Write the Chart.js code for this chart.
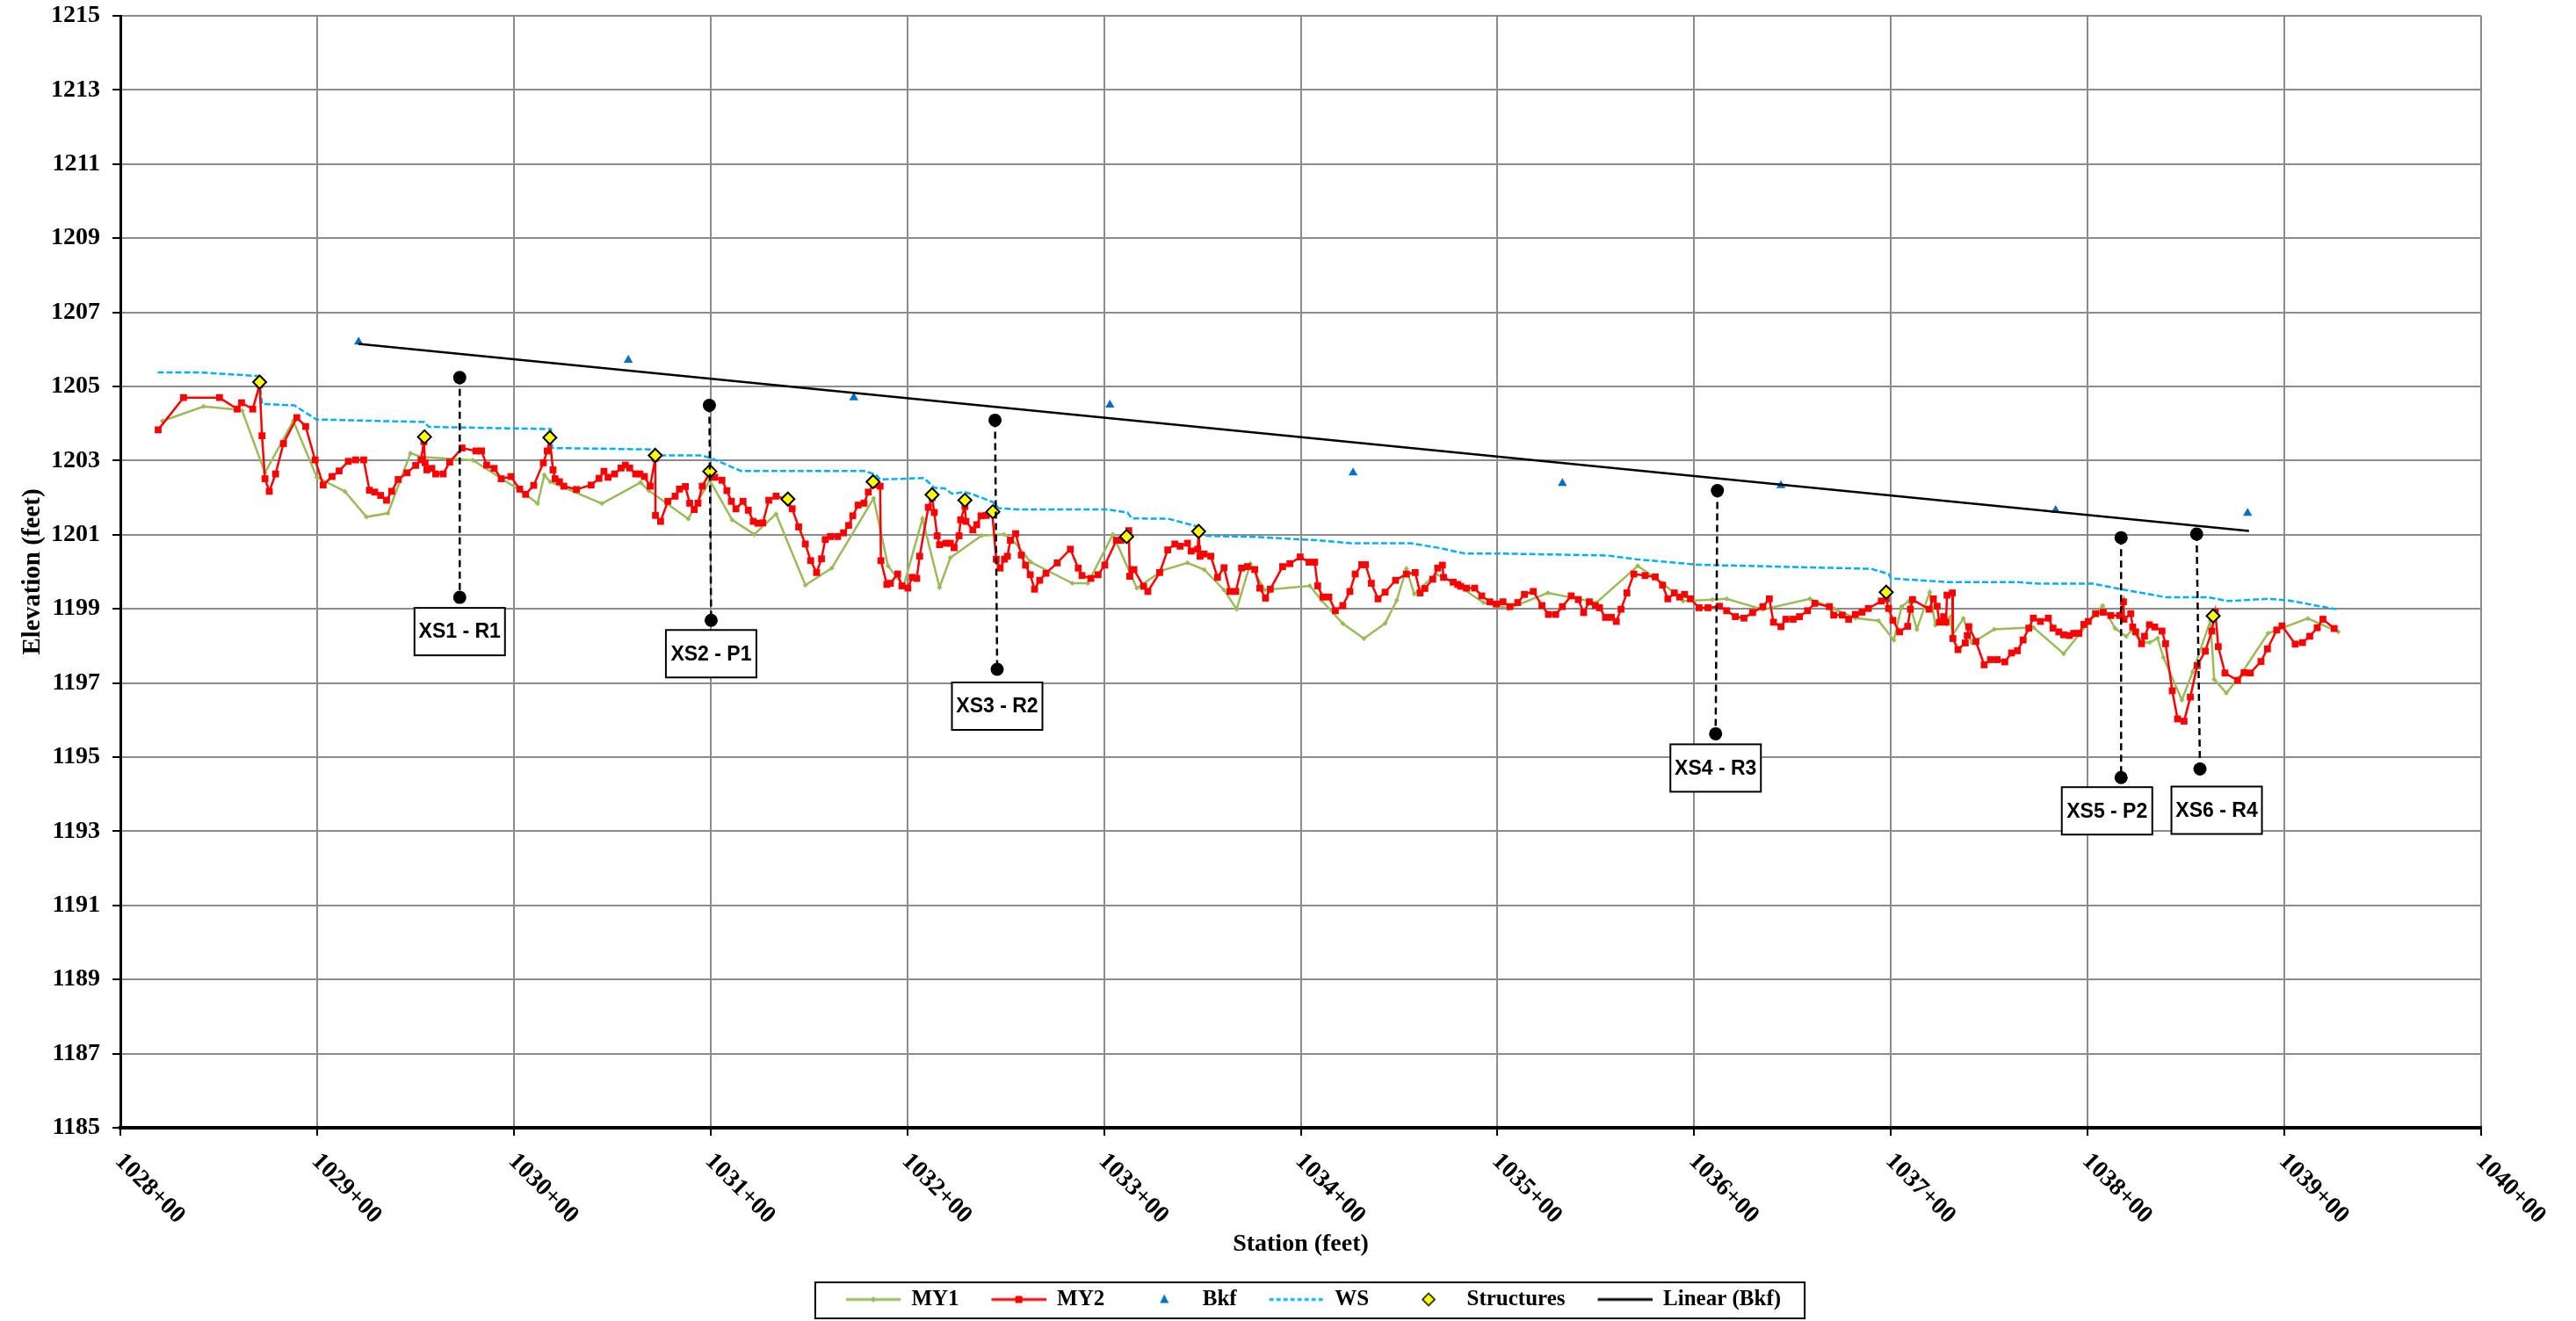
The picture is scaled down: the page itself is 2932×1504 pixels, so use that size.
<!DOCTYPE html>
<html>
<head>
<meta charset="utf-8">
<title>Longitudinal profile</title>
<script src="https://cdn.jsdelivr.net/npm/chart.js@4.4.1/dist/chart.umd.min.js"></script>
<style>
  html, body { margin: 0; padding: 0; background: #fff; }
  #wrap { width: 2932px; height: 1504px; position: relative; }
</style>
</head>
<body>
<div id="wrap"><canvas id="profile"></canvas></div>
<script>
// station in feet (102800 = 1028+00), elevation in feet

// MY1 thalweg survey
var my1Station = [
  102821.4,102842.3,102858.6,102861.9,102873.5,102887.9,102899.9,102914.1,102925.1,102936.0,
  102947.5,102953.1,102979.2,103004.5,103012.1,103015.5,103018.5,103044.8,103064.4,103068.6,
  103088.7,103099.6,103111.0,103122.2,103133.3,103148.2,103161.6,103182.9,103190.2,103198.1,
  103207.7,103216.4,103221.9,103237.8,103249.1,103253.1,103262.8,103283.9,103291.8,103304.5,
  103316.7,103329.8,103342.4,103350.9,103361.0,103367.4,103374.4,103381.5,103404.6,103410.6,
  103421.4,103432.1,103442.9,103448.8,103453.7,103457.7,103468.6,103476.8,103492.9,103505.8,
  103525.6,103550.4,103571.3,103583.9,103594.3,103609.2,103616.5,103634.9,103658.8,103670.9,
  103681.9,103693.7,103701.5,103705.4,103709.1,103713.2,103719.7,103722.6,103730.4,103731.2,
  103736.8,103741.2,103752.5,103772.4,103787.8,103807.6,103814.0,103819.6,103822.6,103827.1,
  103831.5,103835.6,103838.5,103847.9,103853.4,103862.4,103864.3,103870.5,103876.5,103891.7,
  103911.9,103927.4
];
var my1Elev = [
  1204.07,1204.46,1204.38,1204.35,1202.67,1204.07,1202.55,1202.17,1201.48,1201.58,
  1203.20,1203.10,1203.01,1202.15,1201.84,1202.61,1202.43,1201.84,1202.41,1202.19,
  1201.43,1202.47,1201.40,1201.01,1201.56,1199.64,1200.10,1201.98,1200.16,1199.61,
  1201.43,1199.58,1200.38,1200.98,1201.01,1200.89,1200.26,1199.69,1199.69,1201.01,
  1199.56,1200.04,1200.24,1200.06,1199.51,1198.99,1200.22,1199.51,1199.62,1199.23,
  1198.60,1198.20,1198.61,1199.23,1200.08,1199.40,1199.94,1199.74,1199.17,1199.01,
  1199.43,1199.17,1200.16,1199.70,1199.21,1199.25,1199.27,1198.98,1199.27,1199.01,
  1198.75,1198.68,1198.16,1199.06,1199.21,1198.45,1199.45,1198.56,1198.79,1198.28,
  1198.74,1198.08,1198.45,1198.50,1197.79,1199.09,1198.47,1198.26,1198.43,1198.09,
  1198.09,1198.21,1197.69,1196.54,1197.30,1198.68,1197.10,1196.73,1197.12,1198.34,
  1198.74,1198.38
];

// MY2 thalweg survey
var my2Station = [
  102819.2,102832.1,102850.4,102859.4,102861.6,102867.3,102870.8,102872.0,102873.5,102875.7,
  102878.9,102882.9,102889.7,102894.2,102899.0,102903.1,102907.6,102911.2,102915.9,102919.6,
  102923.7,102926.6,102929.3,102932.3,102935.3,102937.9,102941.2,102945.7,102950.1,102952.8,
  102954.3,102954.9,102955.8,102958.3,102960.3,102964.1,102967.4,102973.7,102980.7,102983.6,
  102986.2,102990.0,102993.6,102998.5,103003.0,103006.0,
  103010.1,103015.0,103017.0,103018.3,103019.9,103021.0,103023.2,103025.4,103031.8,103039.3,
  103043.3,103045.8,103047.9,103051.2,103054.5,103056.7,103058.9,103061.9,103064.1,103066.4,
  103069.3,103071.9,103072.0,103074.6,103078.3,103082.0,103084.2,103087.2,103089.4,103091.7,
  103093.6,103095.8,103099.6,103102.1,103105.8,103108.3,103110.6,103112.9,103116.5,103119.2,
  103121.7,103124.1,103126.6,103129.6,103133.3,103138.5,103141.5,103144.8,103148.2,103150.9,
  103153.9,103156.4,103158.3,103160.9,103164.6,103167.6,103170.2,103172.3,103175.0,103178.0,
  103180.2,103182.9,103186.2,103186.6,103189.6,103191.4,103195.1,103197.3,103200.3,103202.5,
  103204.8,103206.3,
  103210.7,103212.6,103213.7,103215.2,103216.4,103219.6,103221.9,103223.8,103226.3,103227.1,
  103229.3,103229.8,103233.3,103235.3,103237.5,103240.2,103243.2,103245.2,103247.2,103249.4,
  103250.9,103252.4,103255.1,103258.0,103260.1,103262.5,103264.7,103267.3,103270.5,103276.2,
  103282.9,103286.9,103288.8,103293.3,103297.0,103300.4,103306.3,103308.6,103312.6,103313.1,
  103315.2,103320.1,103322.3,103328.3,103332.4,103336.0,103338.7,103342.4,103344.3,103347.6,
  103348.1,103348.8,103350.9,103354.3,103357.7,103361.0,103364.0,103367.0,103369.9,103372.9,
  103376.6,103379.2,103382.1,103384.5,103390.8,103394.5,103399.7,103404.2,103407.1,103408.6,
  103411.3,103414.3,103417.6,103421.4,103425.0,103427.7,103431.0,103432.9,103435.9,103439.3,
  103442.9,103448.2,103453.7,103458.2,103460.7,103463.1,103467.1,103469.6,103472.0,103472.6,
  103477.5,103479.8,103481.3,103484.2,103488.4,103492.0,103496.1,103499.4,103502.8,103506.3,
  103510.3,103513.7,103518.2,103522.6,103525.9,103529.6,103533.0,103537.5,103541.1,103543.8,
  103546.7,103549.7,103551.9,103554.9,103557.9,103560.4,103562.8,103565.8,103569.3,103575.0,
  103580.2,103583.9,103586.6,103589.9,103592.6,103595.1,103598.1,103602.5,103607.0,
  103612.8,103616.5,103620.9,103625.3,103629.7,103634.9,103638.2,103640.3,103644.1,103646.6,
  103650.3,103653.5,103657.6,103661.3,103668.7,103670.9,103675.3,103678.5,103681.9,103685.3,
  103688.5,103695.1,103697.6,103698.8,103701.0,103704.4,103708.5,103709.9,103711.0,103719.4,
  103721.6,103723.5,103724.6,103726.8,103728.0,103728.5,103731.2,103731.5,103734.1,103737.8,
  103738.8,103739.6,103743.2,103747.4,103750.6,103754.0,103757.9,103761.3,103764.3,103767.2,
  103770.1,103772.4,103776.0,103780.0,103782.4,103785.3,103787.8,103790.7,103792.9,103795.6,
  103798.1,103800.3,103804.0,103807.9,
  103811.8,103816.2,103818.2,103818.5,103821.9,103822.9,103824.4,103827.4,103828.9,103831.4,
  103834.1,103837.8,103839.6,103843.0,103845.7,103849.0,103852.2,103855.7,103859.8,103863.1,
  103864.9,103866.4,103869.8,103876.2,103879.5,103882.7,103888.1,103891.4,103896.1,103898.8,
  103905.5,103909.2,103912.9,103916.7,103919.6,103925.3
];
var my2Elev = [
  1203.83,1204.70,1204.70,1204.39,1204.56,1204.39,1205.05,1203.67,1202.51,1202.17,
  1202.64,1203.46,1204.16,1203.92,1203.02,1202.34,1202.57,1202.72,1202.98,1203.02,
  1203.02,1202.20,1202.15,1202.06,1201.93,1202.17,1202.49,1202.67,1202.87,1203.02,
  1203.51,1202.94,1202.75,1202.79,1202.64,1202.64,1202.96,1203.34,1203.26,1203.26,
  1202.88,1202.79,1202.51,1202.57,1202.23,1202.09,
  1202.33,1202.94,1203.26,1203.58,1202.75,1202.51,1202.43,1202.31,1202.22,1202.34,
  1202.52,1202.71,1202.55,1202.64,1202.80,1202.88,1202.80,1202.64,1202.64,1202.57,
  1202.31,1203.06,1201.52,1201.36,1201.90,1202.04,1202.23,1202.30,1201.85,1201.68,
  1201.85,1202.31,1202.67,1202.55,1202.47,1202.19,1201.90,1201.70,1201.90,1201.66,
  1201.36,1201.31,1201.32,1201.93,1202.04,1201.96,1201.70,1201.21,1200.75,1200.30,
  1199.98,1200.35,1200.87,1200.95,1200.95,1201.05,1201.25,1201.51,1201.80,1201.85,
  1202.15,1202.35,1202.31,1200.30,1199.66,1199.69,1199.94,1199.62,1199.56,1199.85,
  1199.82,1200.42,
  1201.74,1202.00,1201.60,1200.97,1200.73,1200.77,1200.77,1200.65,1200.97,1201.40,
  1201.76,1201.36,1201.13,1201.27,1201.51,1201.52,1201.58,1200.34,1200.10,1200.34,
  1200.42,1200.85,1201.03,1200.45,1200.18,1199.92,1199.53,1199.77,1199.96,1200.24,
  1200.61,1200.10,1199.90,1199.82,1199.92,1200.18,1200.85,1200.85,1201.11,1199.88,
  1200.06,1199.61,1199.47,1199.98,1200.59,1200.75,1200.69,1200.77,1200.56,1200.61,
  1201.05,1200.42,1200.48,1200.42,1199.85,1200.11,1199.47,1199.47,1200.10,1200.14,
  1200.06,1199.56,1199.29,1199.53,1200.14,1200.22,1200.40,1200.26,1200.26,1199.62,
  1199.32,1199.32,1198.95,1199.09,1199.47,1199.94,1200.19,1200.19,1199.69,1199.27,
  1199.45,1199.77,1199.94,1199.98,1199.43,1199.55,1199.80,1200.10,1200.18,1199.85,
  1199.72,1199.66,1199.61,1199.56,1199.56,1199.35,1199.19,1199.13,1199.19,1199.06,
  1199.17,1199.39,1199.47,1199.09,1198.85,1198.85,1199.06,1199.35,1199.25,1198.90,
  1199.19,1199.09,1199.03,1198.77,1198.77,1198.66,1198.99,1199.43,1199.94,1199.90,
  1199.86,1199.64,1199.27,1199.43,1199.32,1199.39,1199.27,1199.03,1199.03,
  1199.07,1198.95,1198.79,1198.75,1198.90,1199.06,1199.27,1198.64,1198.52,1198.72,
  1198.72,1198.79,1198.95,1199.15,1199.06,1198.83,1198.83,1198.72,1198.85,1198.91,
  1199.01,1199.21,1199.27,1199.01,1198.69,1198.38,1198.53,1198.99,1199.25,1198.99,
  1199.27,1199.07,1198.64,1198.79,1198.64,1199.37,1199.43,1198.20,1197.90,1198.08,
  1198.28,1198.52,1198.12,1197.49,1197.63,1197.63,1197.57,1197.81,1197.87,1198.16,
  1198.48,1198.75,1198.66,1198.75,1198.48,1198.38,1198.30,1198.28,1198.34,1198.34,
  1198.58,1198.66,1198.87,1198.91,
  1198.82,1198.82,1199.19,1198.72,1198.87,1198.51,1198.38,1198.06,1198.26,1198.57,
  1198.51,1198.40,1198.06,1196.79,1196.03,1195.97,1196.62,1197.47,1197.86,1198.40,
  1198.91,1197.98,1197.27,1197.07,1197.28,1197.27,1197.58,1197.92,1198.43,1198.54,
  1198.05,1198.09,1198.26,1198.49,1198.72,1198.47
];

// bankfull points
var bkfStation = [102921.1,103058.2,103172.8,103303.0,103426.6,103533.0,103644.1,103783.7,103881.3];
var bkfElev    = [1206.20,1205.71,1204.70,1204.50,1202.67,1202.39,1202.33,1201.66,1201.58];

// water surface
var wsStation = [
  102819.0,102840.0,102870.5,102872.0,102888.4,102899.6,102954.6,102956.8,103018.8,103019.5,
  103071.6,103075.3,103095.4,103100.6,103115.5,103178.0,103183.9,103186.2,103208.5,103213.7,
  103218.9,103222.6,103229.3,103233.8,103243.5,103246.4,103256.8,103301.5,103311.9,103314.1,
  103332.7,103348.4,103350.6,103377.4,103408.3,103426.2,103455.9,103470.8,103483.5,103503.6,
  103555.7,103570.5,103601.8,103690.0,103698.8,103700.0,103729.7,103765.0,103775.3,103802.5,
  103817.0,103840.0,103861.6,103871.3,103891.4,103901.8,103926.3
];
var wsElev = [
  1205.38,1205.38,1205.28,1204.53,1204.49,1204.11,1204.04,1203.91,1203.85,1203.34,
  1203.30,1203.14,1203.14,1203.06,1202.72,1202.72,1202.63,1202.49,1202.53,1202.27,
  1202.25,1202.11,1202.15,1202.08,1201.88,1201.72,1201.68,1201.68,1201.60,1201.44,
  1201.43,1201.21,1200.97,1200.94,1200.85,1200.77,1200.77,1200.64,1200.49,1200.49,
  1200.44,1200.34,1200.19,1200.08,1199.94,1199.82,1199.72,1199.72,1199.68,1199.68,
  1199.53,1199.31,1199.31,1199.21,1199.27,1199.23,1198.99
];

// structures
var structStation = [102870.8,102954.6,103018.3,103071.9,103099.6,103139.3,103182.6,103212.6,103229.3,103243.5,103311.5,103348.1,103697.6,103863.8];
var structElev    = [1205.12,1203.64,1203.62,1203.14,1202.71,1201.96,1202.43,1202.08,1201.93,1201.62,1200.95,1201.09,1199.45,1198.81];

// linear trend of bankfull, end points as drawn
var trendStation = [102921, 103882];
var trendElev    = [1206.15, 1201.10];

// cross sections
var xsNames      = ['XS1 - R1','XS2 - P1','XS3 - R2','XS4 - R3','XS5 - P2','XS6 - R4'];
var xsTopStation = [102972.5,103099.4,103244.6,103611.8,103817.0,103855.4];
var xsTopElev    = [1205.24,1204.49,1204.09,1202.19,1200.92,1201.02];
var xsBotStation = [102972.5,103100.3,103245.7,103610.9,103817.0,103857.1];
var xsBotElev    = [1199.31,1198.69,1197.37,1195.63,1194.45,1194.68];

// label box placement relative to the lower dot, in px
var xsBoxShift = [[0,12],[0,11],[0,15],[0,12],[-16,11],[19,20]];

var legendNames = ['MY1','MY2','Bkf','WS','Structures','Linear (Bkf)'];

function pairs(xs, ys) {
  return xs.map(function (x, i) { return { x: x, y: ys[i] }; });
}

function stationText(v) {
  var h = Math.floor(v / 100);
  var r = Math.round(v - h * 100);
  return h + '+' + (r < 10 ? '0' : '') + r;
}

// legend keys: line + marker like the spreadsheet legend
var KEY_W = 91, KEY_GAP = 29;
function legendKey(kind) {
  var c = document.createElement('canvas');
  c.width = KEY_W; c.height = 22;
  var g = c.getContext('2d');
  var x0 = KEY_GAP, x1 = KEY_W, cy = 11, cx = (x0 + x1) / 2;
  function line(color, dash) {
    g.save();
    g.strokeStyle = color; g.lineWidth = 3;
    if (dash) g.setLineDash(dash);
    g.beginPath(); g.moveTo(x0, cy); g.lineTo(x1, cy); g.stroke();
    g.restore();
  }
  function diamond(r, fill, stroke) {
    g.beginPath();
    g.moveTo(cx, cy - r); g.lineTo(cx + r, cy); g.lineTo(cx, cy + r); g.lineTo(cx - r, cy); g.closePath();
    g.fillStyle = fill; g.fill();
    if (stroke) { g.lineWidth = 1.5; g.strokeStyle = stroke; g.stroke(); }
  }
  if (kind === 'MY1') { line('#9BBB59'); diamond(3.5, '#9BBB59'); }
  if (kind === 'MY2') { line('#FF0000'); g.fillStyle = '#FF0000'; g.fillRect(cx - 4, cy - 4, 8, 8); }
  if (kind === 'Bkf') {
    g.fillStyle = '#0070C0';
    g.beginPath(); g.moveTo(cx, cy - 6); g.lineTo(cx + 5, cy + 4); g.lineTo(cx - 5, cy + 4); g.closePath(); g.fill();
  }
  if (kind === 'WS') line('#00B0F0', [5, 3]);
  if (kind === 'Structures') diamond(7, '#FFFF00', '#000');
  if (kind === 'Linear (Bkf)') line('#000');
  return c;
}
var legendKeys = legendNames.map(legendKey);

var datasets = [
  { label: 'MY1', data: pairs(my1Station, my1Elev), showLine: true, fill: false,
    borderColor: '#9BBB59', borderWidth: 2.5, pointStyle: 'rectRot', pointRadius: 3,
    pointBackgroundColor: '#9BBB59', pointBorderWidth: 0, order: 6 },
  { label: 'MY2', data: pairs(my2Station, my2Elev), showLine: true, fill: false,
    borderColor: '#FF0000', borderWidth: 2.5, pointStyle: 'rect', pointRadius: 5.5,
    pointBackgroundColor: '#FF0000', pointBorderWidth: 0, order: 4 },
  { label: 'Bkf', data: pairs(bkfStation, bkfElev), showLine: false,
    pointStyle: 'triangle', pointRadius: 6, pointBackgroundColor: '#0070C0',
    pointBorderWidth: 0, order: 3 },
  { label: 'WS', data: pairs(wsStation, wsElev), showLine: true, fill: false,
    borderColor: '#00B0F0', borderWidth: 2.5, borderDash: [7, 3], pointRadius: 0, order: 5 },
  { label: 'Structures', data: pairs(structStation, structElev), showLine: false,
    pointStyle: 'rectRot', pointRadius: 7.5, pointBackgroundColor: '#FFFF00',
    pointBorderColor: '#000', pointBorderWidth: 2, order: 1 },
  { label: 'Linear (Bkf)', data: pairs(trendStation, trendElev), showLine: true, fill: false,
    borderColor: '#000', borderWidth: 2.5, pointRadius: 0, order: 2 }
];
xsNames.forEach(function (name, i) {
  datasets.push({
    label: name,
    data: [{ x: xsTopStation[i], y: xsTopElev[i] }, { x: xsBotStation[i], y: xsBotElev[i] }],
    showLine: true, fill: false, borderColor: '#000', borderWidth: 2.5, borderDash: [8, 5],
    pointStyle: 'circle', pointRadius: 7.5, pointBackgroundColor: '#000', pointBorderWidth: 0,
    order: 0
  });
});

// rotated station labels under the x axis
var stationLabels = {
  id: 'stationLabels',
  afterDraw: function (chart) {
    var ctx = chart.ctx, sx = chart.scales.x;
    ctx.save();
    ctx.font = 'bold 28px "Liberation Serif"';
    ctx.fillStyle = '#000';
    ctx.textAlign = 'left';
    ctx.textBaseline = 'middle';
    sx.ticks.forEach(function (t) {
      var px = sx.getPixelForValue(t.value);
      ctx.save();
      ctx.translate(px - 2, sx.top + 34);
      ctx.rotate(Math.PI / 4);
      ctx.fillText(stationText(t.value), 0, 0);
      ctx.restore();
    });
    ctx.restore();
  }
};

// boxed cross-section names under each lower dot
var xsLabels = {
  id: 'xsLabels',
  afterDatasetsDraw: function (chart) {
    var ctx = chart.ctx, sx = chart.scales.x, sy = chart.scales.y;
    var w = 103, h = 54;
    ctx.save();
    ctx.font = 'bold 23px "Liberation Sans"';
    ctx.textAlign = 'center';
    ctx.textBaseline = 'middle';
    xsNames.forEach(function (name, i) {
      var cx = sx.getPixelForValue(xsBotStation[i]) + xsBoxShift[i][0];
      var top = sy.getPixelForValue(xsBotElev[i]) + xsBoxShift[i][1];
      ctx.fillStyle = '#fff';
      ctx.fillRect(cx - w / 2, top, w, h);
      ctx.lineWidth = 2;
      ctx.strokeStyle = '#000';
      ctx.strokeRect(cx - w / 2, top, w, h);
      ctx.fillStyle = '#000';
      ctx.fillText(name, cx, top + h / 2 + 1);
    });
    ctx.restore();
  }
};

// frame around the legend
var legendFrame = {
  id: 'legendFrame',
  afterDraw: function (chart) {
    var lg = chart.legend, hb = lg.legendHitBoxes;
    if (!hb || !hb.length) return;
    var last = hb[hb.length - 1];
    var left = hb[0].left + KEY_GAP - 35;
    var right = last.left + last.width + 27;
    var ctx = chart.ctx;
    ctx.save();
    ctx.lineWidth = 2;
    ctx.strokeStyle = '#000';
    ctx.strokeRect(left, lg.top + 1, right - left, lg.bottom - lg.top - 2);
    ctx.restore();
  }
};

Chart.defaults.font.family = 'Liberation Serif';
Chart.defaults.color = '#000';

new Chart(document.getElementById('profile'), {
  type: 'scatter',
  data: { datasets: datasets },
  plugins: [stationLabels, xsLabels, legendFrame],
  options: {
    responsive: true,
    maintainAspectRatio: false,
    devicePixelRatio: 1,
    animation: false,
    events: [],
    layout: { padding: { top: 18, right: 108, bottom: 2, left: 0 } },
    scales: {
      x: {
        type: 'linear', min: 102800, max: 104000,
        ticks: { stepSize: 100, display: false },
        grid: { color: '#8c8c8c', lineWidth: 2, tickColor: '#000', tickLength: 9, tickWidth: 2 },
        border: { color: '#000', width: 4 },
        title: { display: true, text: 'Station (feet)', color: '#000',
                 font: { family: 'Liberation Serif', weight: 'bold', size: 28 }, padding: { bottom: 25 } },
        afterFit: function (s) { s.height = 175; }
      },
      y: {
        type: 'linear', min: 1185, max: 1215,
        ticks: { stepSize: 2, color: '#000', padding: 14,
                 font: { family: 'Liberation Serif', weight: 'bold', size: 28 },
                 callback: function (v) { return String(v); } },
        grid: { color: '#8c8c8c', lineWidth: 2, tickColor: '#000', tickLength: 9, tickWidth: 2 },
        border: { color: '#000', width: 3 },
        title: { display: true, text: 'Elevation (feet)', color: '#000',
                 font: { family: 'Liberation Serif', weight: 'bold', size: 29 }, padding: { top: 20 } },
        afterFit: function (s) {
          s.width = 137;
          s.paddingTop = 16;
          s.paddingBottom = 16;
        }
      }
    },
    plugins: {
      tooltip: { enabled: false },
      legend: {
        position: 'bottom',
        fullSize: false,
        labels: {
          usePointStyle: true,
          pointStyleWidth: KEY_W,
          padding: 8,
          color: '#000',
          font: { family: 'Liberation Serif', weight: 'bold', size: 25 },
          generateLabels: function () {
            return legendNames.map(function (name, i) {
              return { text: name, pointStyle: legendKeys[i], fillStyle: 'rgba(0,0,0,0)',
                       strokeStyle: 'rgba(0,0,0,0)', lineWidth: 0, hidden: false,
                       datasetIndex: i, fontColor: '#000' };
            });
          }
        }
      }
    }
  }
});
</script>
</body>
</html>
